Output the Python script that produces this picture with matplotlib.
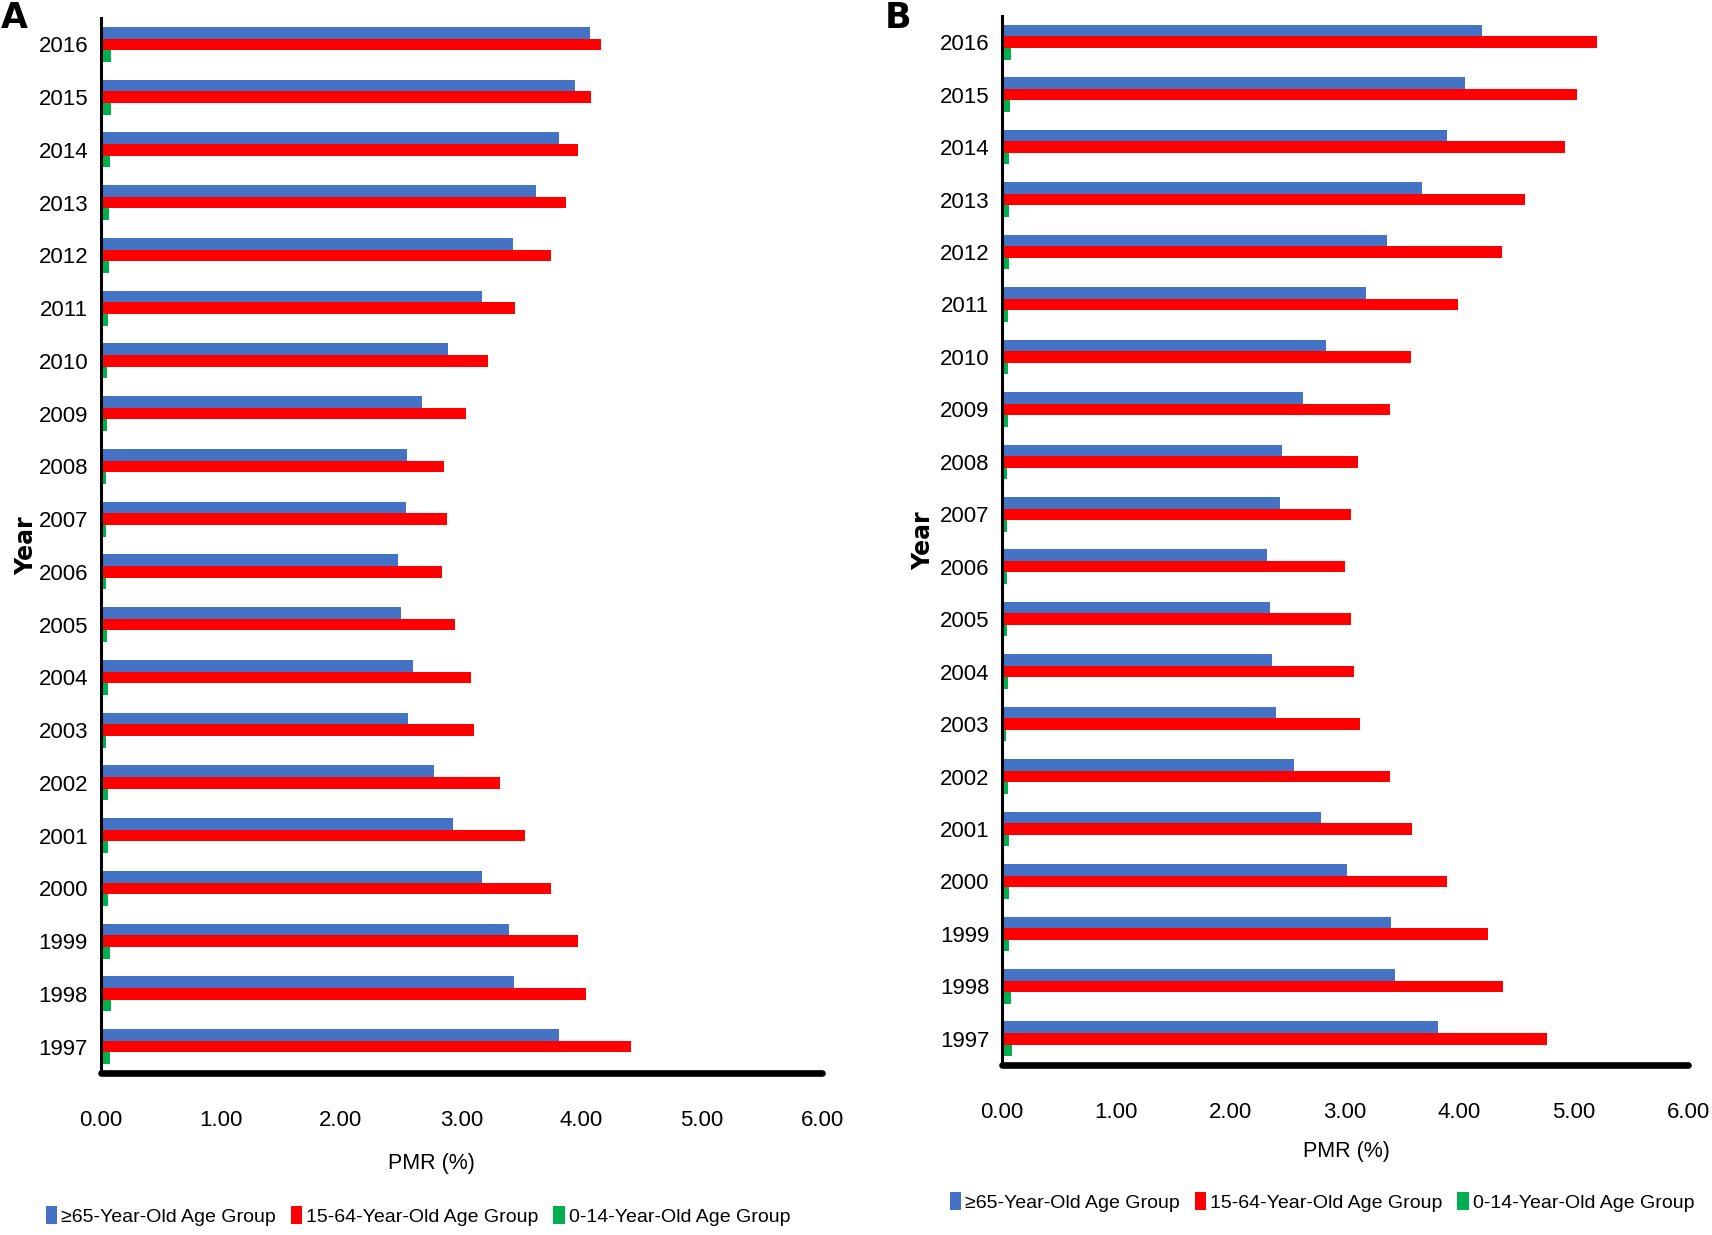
import matplotlib
matplotlib.use("Agg")
import matplotlib.pyplot as plt
import numpy as np
from matplotlib.patches import Patch

years = [str(y) for y in range(1997, 2017)]

# Panel A values (1997 -> 2016)
a_65 = [3.81, 3.44, 3.40, 3.17, 2.93, 2.77, 2.56, 2.60, 2.50, 2.47,
        2.54, 2.55, 2.67, 2.89, 3.17, 3.43, 3.62, 3.81, 3.95, 4.07]
a_15 = [4.41, 4.04, 3.97, 3.75, 3.53, 3.32, 3.11, 3.08, 2.95, 2.84,
        2.88, 2.86, 3.04, 3.22, 3.45, 3.75, 3.87, 3.97, 4.08, 4.16]
a_0 = [0.075, 0.085, 0.08, 0.06, 0.06, 0.06, 0.046, 0.065, 0.057, 0.046,
       0.046, 0.046, 0.057, 0.055, 0.06, 0.07, 0.07, 0.075, 0.085, 0.085]

# Panel B values (1997 -> 2016)
b_65 = [3.81, 3.44, 3.40, 3.02, 2.79, 2.55, 2.40, 2.36, 2.34, 2.32,
        2.43, 2.45, 2.63, 2.83, 3.18, 3.37, 3.67, 3.89, 4.05, 4.20]
b_15 = [4.77, 4.38, 4.25, 3.89, 3.59, 3.39, 3.13, 3.08, 3.05, 3.00,
        3.05, 3.11, 3.39, 3.58, 3.99, 4.37, 4.57, 4.92, 5.03, 5.20]
b_0 = [0.09, 0.08, 0.06, 0.06, 0.06, 0.05, 0.035, 0.05, 0.04, 0.04,
       0.04, 0.04, 0.05, 0.05, 0.05, 0.06, 0.06, 0.06, 0.07, 0.08]

series_labels = ["\u226565-Year-Old Age Group", "15-64-Year-Old Age Group",
                 "0-14-Year-Old Age Group"]
colors = ["#4472C4", "#FF0000", "#00B050"]
xticks = [0, 1, 2, 3, 4, 5, 6]
xticklabels = ["0.00", "1.00", "2.00", "3.00", "4.00", "5.00", "6.00"]

W, H = 1712, 1235
fig = plt.figure(figsize=(W / 100, H / 100), dpi=100)

tick_font = ["Liberation Sans", "DejaVu Sans"]


def draw_panel(rect, v65, v15, v0):
    ax = fig.add_axes(rect)
    y = np.arange(len(years))
    h = 0.22
    ax.barh(y + h, v65, height=h, color=colors[0], edgecolor="none", zorder=1)
    ax.barh(y, v15, height=h, color=colors[1], edgecolor="none", zorder=1)
    ax.barh(y - h, v0, height=h, color=colors[2], edgecolor="none", zorder=1)
    ax.set_xlim(0, 6)
    ax.set_ylim(-0.5, 19.5)
    ax.set_yticks(y)
    ax.set_yticklabels(years, family=tick_font, fontsize=16)
    ax.set_xticks(xticks)
    ax.set_xticklabels(xticklabels, family=tick_font, fontsize=16)
    ax.tick_params(axis="y", length=0, pad=9)
    ax.tick_params(axis="x", length=0, pad=27)
    for s in ["top", "right"]:
        ax.spines[s].set_visible(False)
    ax.spines["left"].set_linewidth(2.2)
    ax.spines["bottom"].set_linewidth(4.8)
    ax.spines["bottom"].set_capstyle("round")
    return ax


axA = draw_panel([100.5 / W, 1 - 1073 / H, (822 - 100.5) / W, (1073 - 18) / H],
                 a_65, a_15, a_0)
axB = draw_panel([1002 / W, 1 - 1065 / H, (1688 - 1002) / W, (1065 - 16) / H],
                 b_65, b_15, b_0)

# axis titles
fig.text(431 / W, 1 - 1163 / H, "PMR (%)", family=tick_font, fontsize=15.5,
         ha="center", va="center")
fig.text(1346 / W, 1 - 1152 / H, "PMR (%)", family=tick_font, fontsize=15.5,
         ha="center", va="center")
fig.text(26 / W, 1 - 546 / H, "Year", fontsize=17, fontweight="bold",
         rotation=90, ha="center", va="center")
fig.text(923 / W, 1 - 541 / H, "Year", fontsize=17, fontweight="bold",
         rotation=90, ha="center", va="center")

# panel letters
fig.text(14 / W, 1 - 18 / H, "A", fontsize=25, fontweight="bold",
         ha="center", va="center")
fig.text(898 / W, 1 - 18 / H, "B", fontsize=25, fontweight="bold",
         ha="center", va="center")

handles = [Patch(facecolor=c, edgecolor="none") for c in colors]
for cx, cy in [(418 / W, 1 - 1216 / H), (1322 / W, 1 - 1202 / H)]:
    fig.legend(handles, series_labels, loc="center", bbox_to_anchor=(cx, cy),
               ncol=3, frameon=False, handlelength=0.6, handleheight=1.0,
               handletextpad=0.2, columnspacing=0.75, borderpad=0,
               prop={"family": tick_font, "size": 14})

fig.savefig("out.png", dpi=100)
